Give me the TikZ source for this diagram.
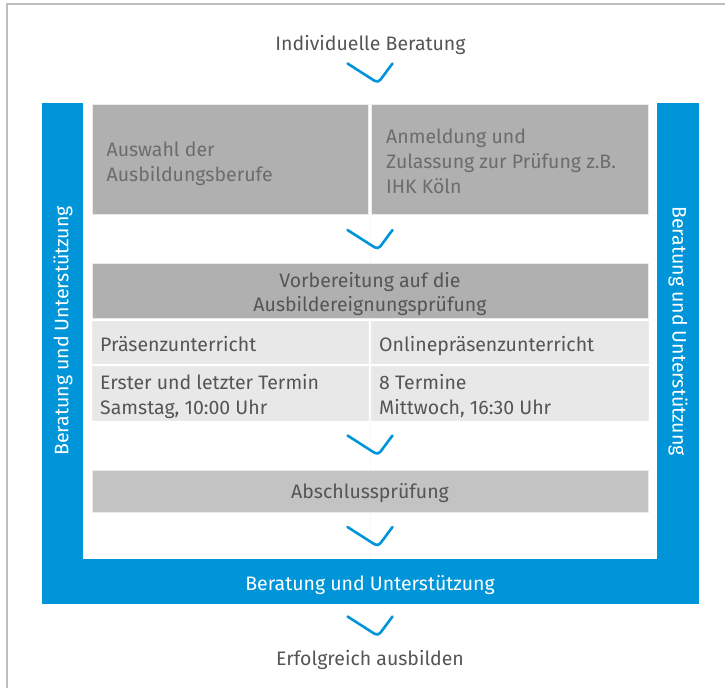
\documentclass[tikz,border=0pt]{standalone}
\usepackage{fontspec}
\setmainfont{Fira Sans}
\definecolor{ibblue}{RGB}{0,149,217}
\definecolor{boxgray}{RGB}{176,176,176}
\definecolor{rowgray}{RGB}{232,232,232}
\definecolor{endgray}{RGB}{195,195,195}
\definecolor{framegray}{RGB}{190,190,190}
\definecolor{txtdark}{RGB}{85,85,85}
\definecolor{txtlight}{RGB}{108,108,108}
\begin{document}
\begin{tikzpicture}[x=1pt,y=-1pt,
  txt/.style={inner sep=0pt, font=\fontsize{19.5}{24}\selectfont, text=txtdark},
  lighttxt/.style={txt, text=txtlight},
  whitetxt/.style={txt, text=white},
  graybox/.style={fill=boxgray, draw=white!92!black, line width=0.8pt},
  rowbox/.style={fill=rowgray, draw=white!92!black, line width=0.8pt},
  endbox/.style={fill=endgray, draw=white!92!black, line width=0.8pt},
  chevline/.style={draw=ibblue, line width=2.6pt, line cap=round, rounded corners=4pt},
  chev/.pic={\draw[chevline] (-22.5,0) -- (8,19.5) -- (22.5,0);}
]
\useasboundingbox (0,0) rectangle (725,688);
\fill[white] (0,0) rectangle (725,688);
% outer frame
\coordinate (fbl) at (7,688);
\coordinate (ftl) at (7,4);
\coordinate (ftr) at (725,4);
\draw[framegray, line width=1.3pt] (fbl) -- (ftl) -- (ftr);

% blue frame
\fill[ibblue] (42,103) rectangle (83,604);
\fill[ibblue] (657,103) rectangle (699,604);
\fill[ibblue] (42,559) rectangle (699,604);

% faint centre line
\draw[gray!5, line width=0.6pt] (370,214) -- (370,559);

% boxes
\path[graybox] (92,104) rectangle (368.5,214);
\path[graybox] (371.5,104) rectangle (648,214);
\path[graybox] (92,263) rectangle (648,318);
\path[rowbox] (92,321) rectangle (368.5,363.5);
\path[rowbox] (371.5,321) rectangle (648,363.5);
\path[rowbox] (92,366.5) rectangle (368.5,420.5);
\path[rowbox] (371.5,366.5) rectangle (648,420.5);
\path[endbox] (92,470) rectangle (648,512);

% chevrons
\pic at (370,63.5) {chev};
\pic at (370,230) {chev};
\pic at (370,435.5) {chev};
\pic at (370,527) {chev};
\pic at (370,616.5) {chev};

% texts
\node[txt, anchor=base] (top) at (370.5,50) {Individuelle Beratung};
\node[lighttxt, anchor=base west] (a1) at (106.5,156) {Auswahl der};
\node[lighttxt, anchor=base west] (a2) at (106.5,181) {Ausbildungsberufe};
\node[lighttxt, anchor=base west] (b1) at (386,143) {Anmeldung und};
\node[lighttxt, anchor=base west] (b2) at (386,168) {Zulassung zur Prüfung z.B.};
\node[lighttxt, anchor=base west] (b3) at (386,193) {IHK Köln};
\node[txt, anchor=base] (v1) at (370,287) {Vorbereitung auf die};
\node[txt, anchor=base] (v2) at (370,311) {Ausbildereignungsprüfung};
\node[txt, anchor=base west] (p1) at (100,351) {Präsenzunterricht};
\node[txt, anchor=base west] (o1) at (379,351) {Onlinepräsenzunterricht};
\node[txt, anchor=base west] (p2) at (100,389.5) {Erster und letzter Termin};
\node[txt, anchor=base west] (p3) at (100,414) {Samstag, 10:00 Uhr};
\node[txt, anchor=base west] (o2) at (379,389.5) {8 Termine};
\node[txt, anchor=base west] (o3) at (379,414) {Mittwoch, 16:30 Uhr};
\node[txt, anchor=base] (ab) at (370,498) {Abschlussprüfung};
\node[whitetxt, anchor=base] (bu) at (370,590) {Beratung und Unterstützung};
\node[txt, anchor=base] (er) at (370,665) {Erfolgreich ausbilden};
\node[whitetxt, rotate=90, anchor=center] (bl) at (63,331) {Beratung und Unterstützung};
\node[whitetxt, rotate=-90, anchor=center] (br) at (678,331) {Beratung und Unterstützung};
\end{tikzpicture}
\end{document}
